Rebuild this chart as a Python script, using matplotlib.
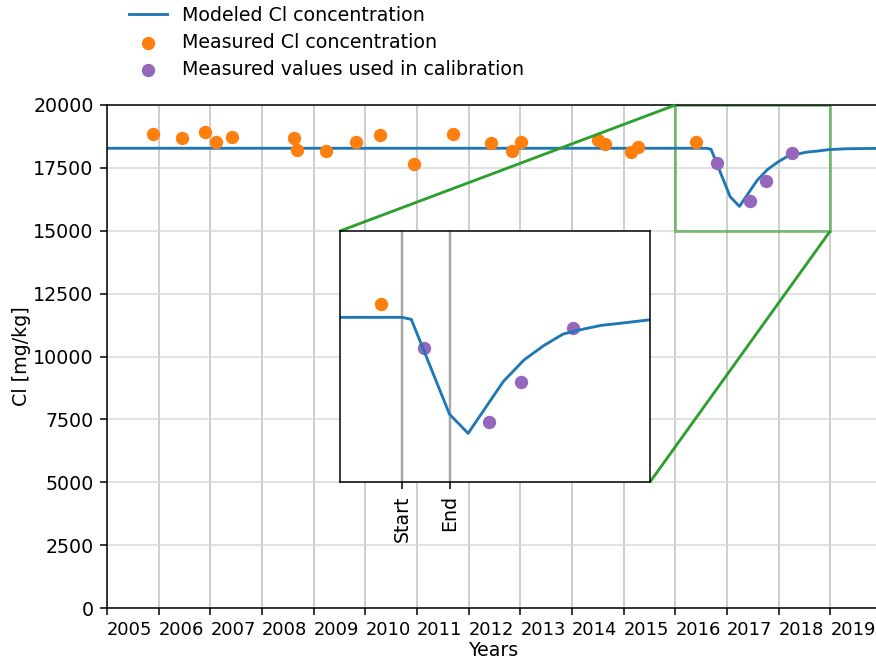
import matplotlib
matplotlib.use("Agg")
import matplotlib.pyplot as plt
from mpl_toolkits.axes_grid1.inset_locator import mark_inset

# Modeled Cl concentration (years, mg/kg)
model_years = [2005.0, 2016.60, 2016.69, 2017.06, 2017.24, 2017.58, 2017.78,
               2017.97, 2018.16, 2018.36, 2018.53, 2018.75, 2018.98, 2019.3, 2019.92]
model_cl = [18280, 18280, 18240, 16350, 15970, 17000, 17430,
            17715, 17948, 18048, 18121, 18170, 18227, 18260, 18275]

# Measured Cl concentration
meas_years = [2005.89, 2006.45, 2006.89, 2007.11, 2007.42, 2008.61, 2008.68,
              2009.24, 2009.81, 2010.29, 2010.95, 2011.70, 2012.44, 2012.83,
              2013.02, 2014.51, 2014.64, 2015.14, 2015.28, 2016.40]
meas_cl = [18834, 18675, 18938, 18540, 18715, 18675, 18210,
           18183, 18540, 18807, 17653, 18834, 18476, 18183,
           18540, 18608, 18449, 18118, 18317, 18540]

# Measured values used in calibration
calib_years = [2016.81, 2017.44, 2017.75, 2018.25]
calib_cl = [17675, 16189, 16986, 18074]

year_ticks = list(range(2005, 2020))
calib_start = 2016.60
calib_end = 2017.06

fig = plt.figure(figsize=(8.77 / 1.37, 6.65 / 1.37), dpi=137)
ax = fig.add_axes([107 / 877, 57 / 665, 772 / 877, 503 / 665])

ax.plot(model_years, model_cl, color="C0", label="Modeled Cl concentration")
ax.scatter(meas_years, meas_cl, color="C1", zorder=3, label="Measured Cl concentration")
ax.scatter(calib_years, calib_cl, color="C4", zorder=3, label="Measured values used in calibration")

ax.set_xlim(2005, 2019.94)
ax.set_ylim(0, 20000)
ax.set_xticks(year_ticks)
ax.set_xticklabels([str(y) for y in year_ticks], ha="left", fontsize=9.4)
ax.set_yticks(range(0, 20001, 2500))
ax.grid(axis="x", color="#c0c0c0", lw=0.8)
ax.grid(axis="y", color="#d8d8d8", lw=0.8)
ax.set_axisbelow(True)
ax.set_xlabel("Years", labelpad=1)
ax.set_ylabel("Cl [mg/kg]", labelpad=1)

fig.legend(loc="lower left", bbox_to_anchor=(112 / 877, 1 - 96 / 665),
           frameon=False, labelspacing=0.42)

# zoomed inset
axins = fig.add_axes([340 / 877, (665 - 482) / 665, 310 / 877, 251 / 665])
axins.plot(model_years, model_cl, color="C0")
axins.scatter(meas_years, meas_cl, color="C1")
axins.scatter(calib_years, calib_cl, color="C4")
axins.set_xlim(2016, 2019)
axins.set_ylim(15000, 20000)
axins.set_xticks([calib_start, calib_end])
axins.set_xticklabels(["Start", "End"], rotation=90)
axins.set_yticks([])
axins.grid(axis="x", color="#a8a8a8", lw=1.3)
axins.set_axisbelow(True)

pp, p1, p2 = mark_inset(ax, axins, loc1=2, loc2=4, fc="none", ec="C2", lw=1.5)
pp.set_alpha(0.6)

fig.savefig("out.png", dpi=137)
